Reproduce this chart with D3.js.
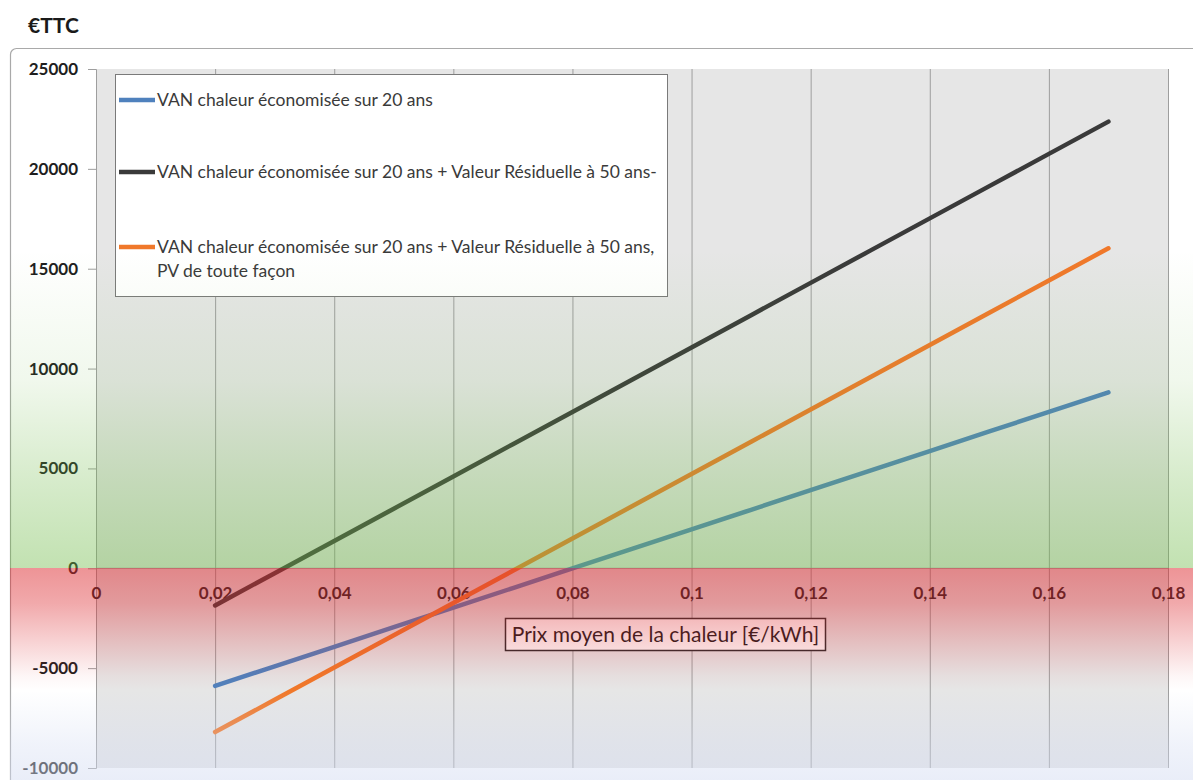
<!DOCTYPE html>
<html>
<head>
<meta charset="utf-8">
<script src="https://cdn.jsdelivr.net/npm/d3@7/dist/d3.min.js"></script>
<style>
  body { margin: 0; background: #ffffff; }
  svg { display: block; font-family: Lato, "Open Sans", "Liberation Sans", sans-serif; }
</style>
</head>
<body>
<svg id="chart" width="1193" height="780"></svg>
<script>
// ---------- DATA ----------
const priceX = [0.02, 0.03, 0.04, 0.05, 0.06, 0.07, 0.08, 0.09, 0.10, 0.11, 0.12, 0.13, 0.14, 0.15, 0.16, 0.17];
const vanChaleur = [-5890, -4910, -3930, -2950, -1970, -990, -10, 970, 1950, 2930, 3910, 4890, 5870, 6850, 7830, 8810];
const vanResiduelle = [-1860, -245, 1370, 2985, 4600, 6215, 7830, 9445, 11060, 12675, 14290, 15905, 17520, 19135, 20750, 22365];
const vanResiduellePV = [-8200, -6585, -4970, -3355, -1740, -125, 1490, 3105, 4720, 6335, 7950, 9565, 11180, 12795, 14410, 16025];
const seriesNames = [
  ["VAN chaleur économisée sur 20 ans"],
  ["VAN chaleur économisée sur 20 ans + Valeur Résiduelle à 50 ans-"],
  ["VAN chaleur économisée sur 20 ans + Valeur Résiduelle à 50 ans,", "PV de toute façon"]
];
const xTicks = [0, 0.02, 0.04, 0.06, 0.08, 0.10, 0.12, 0.14, 0.16, 0.18];
const yTicks = [-10000, -5000, 0, 5000, 10000, 15000, 20000, 25000];
const yUnitLabel = "€TTC";
const xAxisTitle = "Prix moyen de la chaleur [€/kWh]";

// ---------- SETUP ----------
const svg = d3.select("#chart");
const W = 1193, H = 780;
const plot = { left: 96, right: 1168, top: 69, bottom: 768 };

const x = d3.scaleLinear().domain([0, 0.18]).range([plot.left, plot.right]);
const y = d3.scaleLinear().domain([-10000, 25000]).range([plot.bottom, plot.top]);

const loc = d3.formatLocale({ decimal: ",", thousands: "", grouping: [3], currency: ["", "€"], minus: "-" });
const fmtX = loc.format(".2~f");
const fmtY = loc.format("d");

const colors = ["#4f81bd", "#3a3a3a", "#f0782a"];
const seriesData = [vanChaleur, vanResiduelle, vanResiduellePV];

// outer chart border
svg.append("rect")
  .attr("x", 10.5).attr("y", 48.5).attr("width", 1220).attr("height", 780)
  .attr("rx", 6).attr("fill", "#ffffff").attr("stroke", "#a9a9a9").attr("stroke-width", 1.2);

// unit label
svg.append("text").attr("x", 28).attr("y", 33)
  .attr("font-size", 21).attr("font-weight", 700).attr("fill", "#1a1a1a")
  .text(yUnitLabel);

// plot area
svg.append("rect")
  .attr("x", plot.left).attr("y", plot.top)
  .attr("width", plot.right - plot.left).attr("height", plot.bottom - plot.top)
  .attr("fill", "#e6e6e6");

// vertical gridlines
const gridAxis = d3.axisBottom(x).tickValues(xTicks.filter(d => d > 0))
  .tickSize(-(plot.bottom - plot.top)).tickFormat("");
const gGrid = svg.append("g").attr("transform", `translate(0,${plot.bottom})`).call(gridAxis);
gGrid.select(".domain").remove();
gGrid.selectAll(".tick line").attr("stroke", "#9e9e9e").attr("stroke-width", 1);

// y axis
const yAxis = d3.axisLeft(y).tickValues(yTicks).tickSize(8).tickPadding(10).tickFormat(fmtY);
const gY = svg.append("g").attr("transform", `translate(${plot.left},0)`).call(yAxis);
gY.select(".domain").attr("stroke", "#9e9e9e");
gY.selectAll(".tick line").attr("stroke", "#9e9e9e");
gY.selectAll(".tick text")
  .attr("font-size", 17).attr("font-weight", 700).attr("fill", "#1e1e1e")
  .attr("font-family", "Lato, 'Open Sans', sans-serif");

// horizontal axis at zero
svg.append("line")
  .attr("x1", plot.left).attr("x2", plot.right)
  .attr("y1", y(0)).attr("y2", y(0))
  .attr("stroke", "#9e9e9e").attr("stroke-width", 1);

// x tick labels (placed under the zero line)
const xAxis = d3.axisBottom(x).tickValues(xTicks).tickSize(0).tickPadding(19).tickFormat(fmtX);
const gX = svg.append("g").attr("transform", `translate(0,${y(0)})`).call(xAxis);
gX.select(".domain").remove();
gX.selectAll(".tick text")
  .attr("font-size", 17).attr("font-weight", 700).attr("fill", "#1e1e1e")
  .attr("font-family", "Lato, 'Open Sans', sans-serif");

// series lines
const line = d3.line().x((d, i) => x(priceX[i])).y(d => y(d));
seriesData.forEach((s, k) => {
  svg.append("path").datum(s)
    .attr("d", line)
    .attr("fill", "none")
    .attr("stroke", colors[k])
    .attr("stroke-width", 4.5)
    .attr("stroke-linecap", "round")
    .attr("stroke-linejoin", "round");
});

// legend
const lg = svg.append("g");
lg.append("rect").attr("x", 115.5).attr("y", 74.5).attr("width", 552).attr("height", 222)
  .attr("fill", "#ffffff").attr("stroke", "#7a7a7a").attr("stroke-width", 1);
const legendY = [100, 172, 247];
seriesNames.forEach((lines, k) => {
  lg.append("line")
    .attr("x1", 119).attr("x2", 155)
    .attr("y1", legendY[k]).attr("y2", legendY[k])
    .attr("stroke", colors[k]).attr("stroke-width", 4.5);
  lines.forEach((t, j) => {
    lg.append("text")
      .attr("x", 157).attr("y", legendY[k] + j * 24)
      .attr("dy", "0.35em")
      .attr("font-size", 17.5).attr("fill", "#3a3a3a")
      .text(t);
  });
});

// x axis title box
const tb = svg.append("g");
tb.append("rect").attr("x", 505.5).attr("y", 618.5).attr("width", 320).attr("height", 32)
  .attr("fill", "#ffffff").attr("stroke", "#2a2a2a").attr("stroke-width", 1.5);
tb.append("text").attr("x", 665.5).attr("y", 635).attr("dy", "0.35em")
  .attr("text-anchor", "middle").attr("font-size", 21).attr("fill", "#1a1a1a")
  .text(xAxisTitle);

// ---------- colour overlay (green above 0, red below 0, blue-grey at bottom) ----------
const y0 = y(0);
const gy1 = 240, gy2 = 780;
const off = py => Math.max(0, Math.min(1, (py - gy1) / (gy2 - gy1)));
const green = "rgb(110,185,70)", red = "rgb(220,40,45)", blue = "rgb(212,220,242)";
const stops = [
  [250, green, 0],
  [380, green, 0.10],
  [480, green, 0.28],
  [y0 - 0.5, green, 0.42],
  [y0 - 0.5, red, 0.5],
  [y0 + 35, red, 0.4],
  [y0 + 75, red, 0.2],
  [y0 + 108, red, 0.04],
  [y0 + 122, red, 0],
  [y0 + 122, blue, 0],
  [745, blue, 0.35],
  [780, blue, 0.5]
];
const defs = svg.append("defs");
const grad = defs.append("linearGradient").attr("id", "bandGrad")
  .attr("gradientUnits", "userSpaceOnUse")
  .attr("x1", 0).attr("x2", 0).attr("y1", gy1).attr("y2", gy2);
stops.forEach(s => {
  grad.append("stop").attr("offset", off(s[0])).attr("stop-color", s[1]).attr("stop-opacity", s[2]);
});
svg.append("rect").attr("x", 10).attr("y", gy1).attr("width", W - 10).attr("height", gy2 - gy1)
  .attr("fill", "url(#bandGrad)").style("pointer-events", "none");
</script>
</body>
</html>
